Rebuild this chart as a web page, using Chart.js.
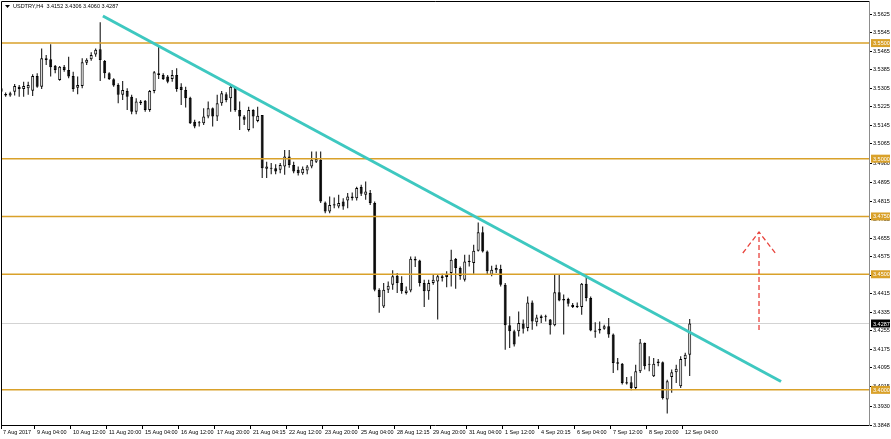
<!DOCTYPE html>
<html>
<head>
<meta charset="utf-8">
<title>USDTRY,H4</title>
<script src="https://cdn.jsdelivr.net/npm/chart.js@4.4.0/dist/chart.umd.min.js"></script>
<style>
  html, body { margin: 0; padding: 0; background: #ffffff; }
  canvas { display: block; }
</style>
</head>
<body>
<canvas id="usdtry-chart" width="891" height="439"></canvas>
<script>
// Candle data for USDTRY H4, oldest first
const opens = [
    3.5290, 3.5280, 3.5273, 3.5290, 3.5311, 3.5301, 3.5305, 3.5294, 3.5358, 3.5311,
    3.5434, 3.5430, 3.5402, 3.5340, 3.5398, 3.5384, 3.5358, 3.5307, 3.5314, 3.5415,
    3.5430, 3.5451, 3.5473, 3.5422, 3.5369, 3.5343, 3.5319, 3.5276, 3.5293, 3.5268,
    3.5203, 3.5240, 3.5250, 3.5211, 3.5293, 3.5369, 3.5362, 3.5355, 3.5345, 3.5362,
    3.5311, 3.5297, 3.5264, 3.5160, 3.5153, 3.5153, 3.5182, 3.5218, 3.5182, 3.5240,
    3.5279, 3.5261, 3.5307, 3.5211, 3.5182, 3.5124, 3.5211, 3.5163, 3.5189, 3.4956,
    3.4959, 3.4959, 3.4952, 3.4966, 3.5009, 3.4973, 3.4952, 3.4937, 3.4949, 3.4966,
    3.4987, 3.4995, 3.4810, 3.4771, 3.4797, 3.4793, 3.4815, 3.4819, 3.4829, 3.4829,
    3.4877, 3.4844, 3.4851, 3.4808, 3.4433, 3.4361, 3.4433, 3.4455, 3.4494, 3.4462,
    3.4419, 3.4430, 3.4566, 3.4560, 3.4462, 3.4426, 3.4462, 3.4469, 3.4491, 3.4488,
    3.4505, 3.4566, 3.4527, 3.4476, 3.4553, 3.4549, 3.4602, 3.4682, 3.4599, 3.4498,
    3.4517, 3.4523, 3.4455, 3.4279, 3.4253, 3.4253, 3.4287, 3.4268, 3.4378, 3.4292,
    3.4311, 3.4318, 3.4304, 3.4279, 3.4422, 3.4393, 3.4393, 3.4367, 3.4358, 3.4358,
    3.4459, 3.4397, 3.4257, 3.4257, 3.4264, 3.4275, 3.4239, 3.4113, 3.4113, 3.4027,
    3.4033, 3.4008, 3.4080, 3.4203, 3.4113, 3.4059, 3.4116, 3.4119, 3.3958, 3.4056,
    3.4076, 3.4016, 3.4133, 3.4152
];
const highs = [
    3.5323, 3.5286, 3.5290, 3.5323, 3.5319, 3.5333, 3.5333, 3.5365, 3.5369, 3.5477,
    3.5448, 3.5495, 3.5405, 3.5401, 3.5405, 3.5441, 3.5376, 3.5355, 3.5434, 3.5434,
    3.5460, 3.5477, 3.5590, 3.5427, 3.5374, 3.5348, 3.5326, 3.5336, 3.5305, 3.5276,
    3.5261, 3.5254, 3.5254, 3.5297, 3.5379, 3.5492, 3.5369, 3.5362, 3.5384, 3.5391,
    3.5326, 3.5311, 3.5268, 3.5168, 3.5163, 3.5218, 3.5247, 3.5221, 3.5276, 3.5293,
    3.5287, 3.5319, 3.5311, 3.5247, 3.5189, 3.5225, 3.5214, 3.5225, 3.5189, 3.4987,
    3.4981, 3.4976, 3.4981, 3.5038, 3.5038, 3.4987, 3.4966, 3.4966, 3.4973, 3.5031,
    3.5031, 3.5031, 3.4815, 3.4836, 3.4832, 3.4844, 3.4829, 3.4851, 3.4854, 3.4879,
    3.4887, 3.4901, 3.4865, 3.4815, 3.4440, 3.4462, 3.4469, 3.4517, 3.4505, 3.4491,
    3.4447, 3.4577, 3.4577, 3.4563, 3.4476, 3.4476, 3.4498, 3.4498, 3.4502, 3.4513,
    3.4606, 3.4570, 3.4534, 3.4584, 3.4584, 3.4628, 3.4724, 3.4707, 3.4603, 3.4537,
    3.4541, 3.4541, 3.4462, 3.4318, 3.4260, 3.4339, 3.4304, 3.4404, 3.4387, 3.4325,
    3.4325, 3.4325, 3.4306, 3.4498, 3.4498, 3.4412, 3.4398, 3.4376, 3.4378, 3.4462,
    3.4491, 3.4404, 3.4292, 3.4296, 3.4282, 3.4311, 3.4244, 3.4138, 3.4116, 3.4056,
    3.4059, 3.4109, 3.4220, 3.4205, 3.4145, 3.4138, 3.4133, 3.4123, 3.4044, 3.4088,
    3.4109, 3.4145, 3.4160, 3.4306
];
const lows = [
    3.5283, 3.5268, 3.5268, 3.5273, 3.5268, 3.5268, 3.5276, 3.5271, 3.5307, 3.5301,
    3.5405, 3.5355, 3.5369, 3.5337, 3.5376, 3.5348, 3.5290, 3.5279, 3.5305, 3.5405,
    3.5424, 3.5441, 3.5336, 3.5348, 3.5340, 3.5311, 3.5240, 3.5254, 3.5211, 3.5192,
    3.5192, 3.5232, 3.5203, 3.5203, 3.5283, 3.5345, 3.5340, 3.5326, 3.5333, 3.5290,
    3.5232, 3.5221, 3.5150, 3.5132, 3.5139, 3.5146, 3.5175, 3.5139, 3.5163, 3.5229,
    3.5244, 3.5203, 3.5203, 3.5124, 3.5146, 3.5117, 3.5132, 3.5158, 3.4916, 3.4916,
    3.4933, 3.4933, 3.4937, 3.4930, 3.4961, 3.4937, 3.4927, 3.4930, 3.4933, 3.4959,
    3.4981, 3.4808, 3.4764, 3.4764, 3.4786, 3.4786, 3.4779, 3.4786, 3.4819, 3.4819,
    3.4839, 3.4822, 3.4800, 3.4426, 3.4333, 3.4354, 3.4419, 3.4433, 3.4419, 3.4416,
    3.4412, 3.4422, 3.4531, 3.4447, 3.4358, 3.4390, 3.4455, 3.4304, 3.4469, 3.4444,
    3.4447, 3.4437, 3.4476, 3.4469, 3.4534, 3.4502, 3.4599, 3.4594, 3.4498, 3.4491,
    3.4505, 3.4447, 3.4174, 3.4181, 3.4188, 3.4231, 3.4244, 3.4253, 3.4260, 3.4275,
    3.4289, 3.4296, 3.4239, 3.4275, 3.4383, 3.4239, 3.4361, 3.4354, 3.4354, 3.4325,
    3.4383, 3.4253, 3.4225, 3.4244, 3.4260, 3.4225, 3.4073, 3.4085, 3.4023, 3.4023,
    3.3998, 3.4001, 3.4073, 3.4088, 3.4080, 3.4056, 3.4102, 3.3958, 3.3898, 3.3987,
    3.4030, 3.4008, 3.4102, 3.4060
];
const closes = [
    3.5305, 3.5273, 3.5283, 3.5314, 3.5301, 3.5314, 3.5319, 3.5358, 3.5311, 3.5434,
    3.5427, 3.5395, 3.5384, 3.5398, 3.5384, 3.5355, 3.5301, 3.5319, 3.5417, 3.5428,
    3.5448, 3.5471, 3.5427, 3.5369, 3.5345, 3.5316, 3.5276, 3.5297, 3.5268, 3.5203,
    3.5247, 3.5247, 3.5211, 3.5293, 3.5374, 3.5362, 3.5345, 3.5333, 3.5362, 3.5301,
    3.5297, 3.5261, 3.5153, 3.5139, 3.5158, 3.5182, 3.5218, 3.5182, 3.5240, 3.5283,
    3.5254, 3.5311, 3.5211, 3.5182, 3.5168, 3.5211, 3.5182, 3.5186, 3.4959, 3.4966,
    3.4956, 3.4944, 3.4973, 3.5009, 3.4973, 3.4944, 3.4937, 3.4956, 3.4966, 3.4995,
    3.4999, 3.4815, 3.4771, 3.4800, 3.4803, 3.4808, 3.4793, 3.4836, 3.4836, 3.4873,
    3.4848, 3.4858, 3.4808, 3.4433, 3.4402, 3.4433, 3.4450, 3.4491, 3.4462, 3.4426,
    3.4430, 3.4567, 3.4560, 3.4462, 3.4426, 3.4462, 3.4476, 3.4491, 3.4484, 3.4498,
    3.4563, 3.4527, 3.4491, 3.4555, 3.4558, 3.4602, 3.4682, 3.4599, 3.4513, 3.4520,
    3.4527, 3.4455, 3.4279, 3.4253, 3.4196, 3.4289, 3.4264, 3.4378, 3.4296, 3.4313,
    3.4318, 3.4314, 3.4279, 3.4422, 3.4387, 3.4387, 3.4373, 3.4358, 3.4364, 3.4459,
    3.4397, 3.4257, 3.4251, 3.4264, 3.4275, 3.4239, 3.4116, 3.4119, 3.4030, 3.4033,
    3.4008, 3.4080, 3.4205, 3.4102, 3.4109, 3.4113, 3.4123, 3.3965, 3.4037, 3.4076,
    3.4091, 3.4133, 3.4152, 3.4287
];

// Time labels under the chart (one every 8 bars after the first)
const timeLabels = [
    '7 Aug 2017', '9 Aug 04:00', '10 Aug 12:00', '11 Aug 20:00', '15 Aug 04:00',
    '16 Aug 12:00', '17 Aug 20:00', '21 Aug 04:15', '22 Aug 12:00', '23 Aug 20:00',
    '25 Aug 04:00', '28 Aug 12:15', '29 Aug 20:00', '31 Aug 04:00', '1 Sep 12:00',
    '4 Sep 20:15', '6 Sep 04:00', '7 Sep 12:00', '8 Sep 20:00', '12 Sep 04:00'
];

// Price labels on the right axis
const priceTicks = [
    3.5625, 3.5545, 3.5465, 3.5385, 3.5305, 3.5225, 3.5145, 3.5065, 3.4980, 3.4895,
    3.4815, 3.4735, 3.4655, 3.4575, 3.4495, 3.4415, 3.4335, 3.4255, 3.4175, 3.4095,
    3.4015, 3.3930, 3.3848
];

// Horizontal levels (gold lines) and the last price
const levels = [3.5500, 3.5000, 3.4750, 3.4500, 3.4000];
const lastPrice = 3.4287;

// Down trend line, [bar index, price] at each end
const trendStart = [22.6, 3.5617];
const trendEnd = [173.3, 3.4036];

// Red dashed arrow pointing up: shaft and the two wings of the head
const arrowBar = 168.4;
const arrowBottom = 3.4259;
const arrowTop = 3.4683;
const arrowWingBars = [164.8, 172.0];
const arrowWingPrice = 3.4592;

// Visible range of the time axis and price axis
const xMin = -0.04;
const xMax = 192.84;
const yMin = 3.3848;
const yMax = 3.5682;

const GOLD = '#d9a12a';

// Tick positions for the time labels: left edge, then every 8 bars
function timeTickValues() {
    return timeLabels.map((label, k) => (k === 0 ? xMin : 7.5 + 8 * (k - 1)));
}

// Build one dataset for a straight segment between two points
function segment(points, color, width, dash, order) {
    return {
        type: 'line',
        data: points.map(p => ({ x: p[0], y: p[1] })),
        borderColor: color,
        borderWidth: width,
        borderDash: dash || [],
        pointRadius: 0,
        tension: 0,
        fill: false,
        order: order
    };
}

// Draws the frame, the title and the coloured price boxes on the right axis
const overlayPlugin = {
    id: 'overlay',
    afterDraw(chart) {
        const ctx = chart.ctx;
        const area = chart.chartArea;
        const yScale = chart.scales.y;
        ctx.save();

        // left and top edge of the frame
        ctx.strokeStyle = '#000000';
        ctx.lineWidth = 1;
        ctx.beginPath();
        ctx.moveTo(area.left + 0.5, area.bottom);
        ctx.lineTo(area.left + 0.5, area.top + 0.5);
        ctx.lineTo(area.right, area.top + 0.5);
        ctx.stroke();

        // title with the small triangle
        ctx.fillStyle = '#000000';
        ctx.beginPath();
        ctx.moveTo(area.left + 4, area.top + 4);
        ctx.lineTo(area.left + 9, area.top + 4);
        ctx.lineTo(area.left + 6.5, area.top + 7);
        ctx.closePath();
        ctx.fill();
        ctx.font = '5.5px "Liberation Sans", Arial, sans-serif';
        ctx.textBaseline = 'middle';
        ctx.textAlign = 'left';
        ctx.fillText('USDTRY,H4  3.4152 3.4306 3.4060 3.4287', area.left + 12, area.top + 5.5);

        // price boxes
        const drawBox = (value, color) => {
            const py = yScale.getPixelForValue(value);
            ctx.fillStyle = color;
            ctx.fillRect(area.right + 2, py - 4, chart.width - area.right - 3, 8);
            ctx.fillStyle = '#ffffff';
            ctx.fillText(value.toFixed(4), area.right + 4, py + 0.5);
        };
        levels.forEach(v => drawBox(v, GOLD));
        drawBox(lastPrice, '#000000');

        ctx.restore();
    }
};

function renderChart() {
    const bars = opens.map((o, i) => i);
    console.log('Candles:', bars.length); // Debugging

    // wicks from low to high, bodies from open to close
    const wickData = bars.map(i => ({ x: i, y: [lows[i], highs[i]] }));
    const bodyData = bars.map(i => ({ x: i, y: [opens[i], closes[i]] }));
    const bodyColors = bars.map(i => (closes[i] >= opens[i] ? '#ffffff' : '#000000'));

    const datasets = [
        {
            type: 'bar',
            data: bodyData,
            backgroundColor: bodyColors,
            borderColor: '#000000',
            borderWidth: 1,
            borderSkipped: false,
            maxBarThickness: 3,
            minBarLength: 1,
            grouped: false,
            order: 2
        },
        {
            type: 'bar',
            data: wickData,
            backgroundColor: '#000000',
            maxBarThickness: 1,
            grouped: false,
            order: 3
        },
        segment([[xMin, lastPrice], [xMax, lastPrice]], '#d3d3d3', 1, null, 4),
        segment([trendStart, trendEnd], '#3ec8c0', 3, null, 0),
        segment([[arrowBar, arrowBottom], [arrowBar, arrowTop]], '#e8433c', 1.3, [5, 3], 0),
        segment([[arrowWingBars[0], arrowWingPrice], [arrowBar, arrowTop], [arrowWingBars[1], arrowWingPrice]],
            '#e8433c', 1.3, [5, 3], 0)
    ];

    // gold horizontal levels
    levels.forEach(v => {
        datasets.push(segment([[xMin, v], [xMax, v]], GOLD, 1.5, null, 1));
    });

    const ctx = document.getElementById('usdtry-chart').getContext('2d');

    Chart.defaults.font.family = '"Liberation Sans", Arial, sans-serif';
    Chart.defaults.font.size = 5.5;
    Chart.defaults.color = '#000000';

    window.myChart = new Chart(ctx, {
        type: 'bar',
        data: { datasets: datasets },
        options: {
            responsive: false,
            animation: false,
            events: [],
            layout: { padding: { top: 1, left: 1, right: 0, bottom: 0 } },
            plugins: {
                legend: { display: false },
                tooltip: { enabled: false },
                title: { display: false }
            },
            scales: {
                x: {
                    type: 'linear',
                    min: xMin,
                    max: xMax,
                    offset: false,
                    afterBuildTicks: axis => {
                        axis.ticks = timeTickValues().map(v => ({ value: v }));
                    },
                    afterFit: axis => {
                        axis.height = 14;
                        axis.paddingLeft = 0;
                        axis.paddingRight = 0;
                    },
                    ticks: {
                        autoSkip: false,
                        maxRotation: 0,
                        minRotation: 0,
                        align: 'start',
                        labelOffset: 2,
                        padding: 0,
                        callback: (value, index) => timeLabels[index]
                    },
                    grid: {
                        offset: false,
                        drawOnChartArea: false,
                        drawTicks: true,
                        tickLength: 4,
                        color: '#000000'
                    },
                    border: { color: '#000000' }
                },
                y: {
                    type: 'linear',
                    position: 'right',
                    min: yMin,
                    max: yMax,
                    afterBuildTicks: axis => {
                        axis.ticks = priceTicks.map(v => ({ value: v }));
                    },
                    afterFit: axis => {
                        axis.width = 22;
                        axis.paddingTop = 0;
                        axis.paddingBottom = 0;
                    },
                    ticks: {
                        autoSkip: false,
                        padding: 1,
                        callback: value => value.toFixed(4)
                    },
                    grid: {
                        drawOnChartArea: false,
                        drawTicks: true,
                        tickLength: 3,
                        color: '#000000'
                    },
                    border: { color: '#8c8c8c' }
                }
            }
        },
        plugins: [overlayPlugin]
    });
}

document.addEventListener('DOMContentLoaded', renderChart);
</script>
</body>
</html>
